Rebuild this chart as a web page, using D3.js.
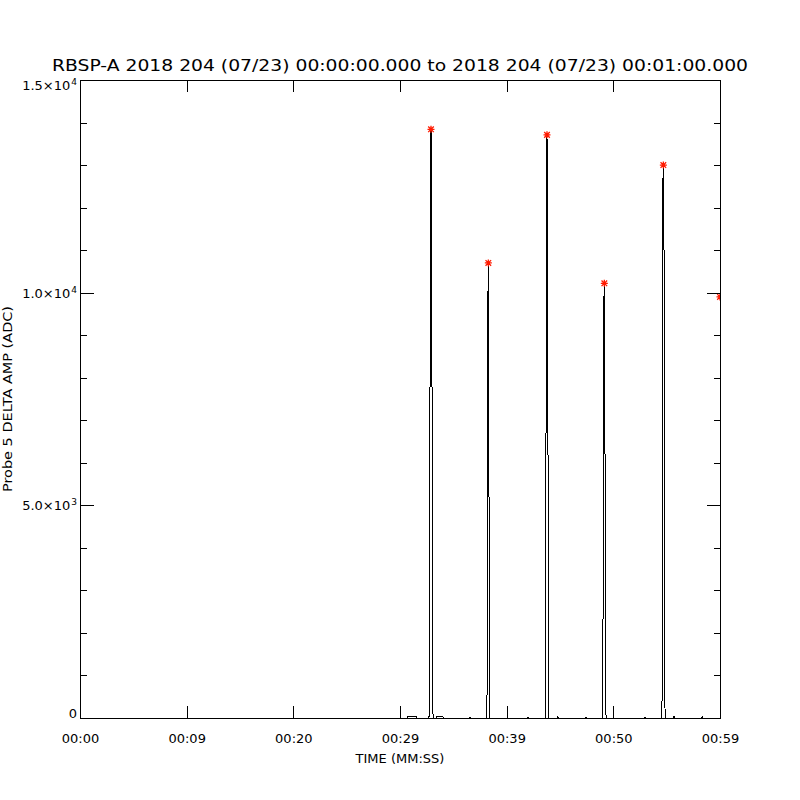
<!DOCTYPE html>
<html>
<head>
<meta charset="utf-8">
<script src="https://cdn.jsdelivr.net/npm/d3@7"></script>
<style>
  html, body { margin: 0; padding: 0; background: #fff; }
  text { font-family: "DejaVu Sans", sans-serif; fill: #000; }
</style>
</head>
<body>
<div id="chart"></div>
<script>
// ---- data ----
const titleText = "RBSP-A 2018 204 (07/23) 00:00:00.000 to 2018 204 (07/23) 00:01:00.000";
const xTitle = "TIME (MM:SS)";
const yTitle = "Probe 5 DELTA AMP (ADC)";

const timeTicks = [0, 10, 20, 30, 40, 50, 60];
const timeTickLabels = ["00:00", "00:09", "00:20", "00:29", "00:39", "00:50", "00:59"];

const ampMajorTicks = [0, 5000, 10000, 15000];
const ampLabelBase = ["0", "5.0\u00d710", "1.0\u00d710", "1.5\u00d710"];
const ampLabelExp = ["", "3", "4", "4"];
const ampMinorTicks = [1000, 2000, 3000, 4000, 6000, 7000, 8000, 9000, 11000, 12000, 13000, 14000];

// trace samples (seconds, ADC), grouped by burst
const traceSeconds = [
  0, 30.69, 30.75, 31.5, 31.56,
  32.719, 32.781, 32.844, 32.906, 32.969, 33.031, 33.094, 33.156,
  33.4, 33.44, 34.0, 34.06, 36.5, 36.56, 36.63,
  38.094, 38.156, 38.219, 38.281, 38.344, 38.406,
  41.94, 42.0, 42.06,
  43.594, 43.656, 43.719, 43.781, 43.844, 43.906, 43.969,
  44.72, 44.78, 44.84, 47.38, 47.44, 47.5,
  48.969, 49.031, 49.094, 49.156, 49.219, 49.281, 49.344,
  52.91, 52.97, 53.03,
  54.5, 54.563, 54.625, 54.688, 54.75, 54.813, 54.875,
  55.63, 55.69, 55.75, 58.28, 58.34, 58.41,
  59.995, 60.0
];
const traceAdc = [
  0, 0, 40, 40, 0,
  0, 3090, 11950, 13840, 11950, 3770, 90, 0,
  0, 40, 40, 0, 0, 30, 0,
  0, 150, 9300, 10700, 5200, 0,
  0, 30, 0,
  0, 420, 12130, 13710, 10400, 2270, 0,
  0, 30, 0, 0, 30, 0,
  0, 2010, 9580, 10220, 6200, 130, 0,
  0, 30, 0,
  0, 180, 12380, 13000, 11000, 460, 0,
  0, 40, 0, 0, 30, 0,
  0, 9900
];

const peakSeconds = [32.906, 38.281, 43.781, 49.156, 54.688, 60.0];
const peakAdc = [13840, 10700, 13710, 10220, 13000, 9900];

// ---- layout ----
const width = 800, height = 800;
const plotLeft = 80, plotRight = 720, plotTop = 80, plotBottom = 718;

const svg = d3.select("#chart").append("svg")
  .attr("width", width)
  .attr("height", height);

const x = d3.scaleLinear().domain([0, 60]).range([plotLeft, plotRight]);
const y = d3.scaleLinear().domain([0, 15000]).range([plotBottom, plotTop]);

const defs = svg.append("defs");
defs.append("clipPath").attr("id", "plot-clip")
  .append("rect")
  .attr("x", plotLeft).attr("y", plotTop)
  .attr("width", plotRight - plotLeft).attr("height", plotBottom - plotTop);
// trace stops short of the right frame column
defs.append("clipPath").attr("id", "trace-clip")
  .append("rect")
  .attr("x", plotLeft).attr("y", plotTop)
  .attr("width", plotRight - plotLeft - 1).attr("height", plotBottom - plotTop + 1);

// ---- trace ----
const trace = d3.zip(traceSeconds, traceAdc);
const line = d3.line().x(d => x(d[0])).y(d => y(d[1]));

svg.append("path")
  .datum(trace)
  .attr("clip-path", "url(#trace-clip)")
  .attr("d", line)
  .attr("fill", "none")
  .attr("stroke", "#000")
  .attr("stroke-width", 1)
  .attr("shape-rendering", "crispEdges");

// ---- peak markers (asterisks) ----
const star = "M-3.5,0H3.5M0,-3.5V3.5M-2.8,-2.8L2.8,2.8M-2.8,2.8L2.8,-2.8";
svg.append("g")
  .attr("clip-path", "url(#plot-clip)")
  .selectAll("path")
  .data(d3.zip(peakSeconds, peakAdc))
  .join("path")
  .attr("transform", d => `translate(${x(d[0])},${y(d[1])})`)
  .attr("d", star)
  .attr("fill", "none")
  .attr("stroke", "#ff1a00")
  .attr("stroke-width", 1.3);

// ---- axes (ticks point inward on all four sides) ----
function styleAxis(g) {
  g.selectAll("line, path").attr("stroke", "#000").attr("shape-rendering", "crispEdges");
  g.selectAll("text").attr("font-size", 13).attr("font-family", "DejaVu Sans, sans-serif").attr("fill", "#000");
}

svg.append("g")
  .attr("transform", `translate(0,${plotBottom})`)
  .call(d3.axisBottom(x).tickValues(timeTicks).tickSize(-12).tickSizeOuter(0)
    .tickPadding(16).tickFormat((d, i) => timeTickLabels[i]))
  .call(styleAxis);

svg.append("g")
  .attr("transform", `translate(0,${plotTop})`)
  .call(d3.axisTop(x).tickValues(timeTicks).tickSize(-12).tickSizeOuter(0).tickFormat(""))
  .call(styleAxis);

svg.append("g")
  .attr("transform", `translate(${plotLeft},0)`)
  .call(d3.axisLeft(y).tickValues(ampMajorTicks).tickSize(-14).tickSizeOuter(0).tickFormat(""))
  .call(styleAxis);
svg.append("g")
  .attr("transform", `translate(${plotLeft},0)`)
  .call(d3.axisLeft(y).tickValues(ampMinorTicks).tickSize(-7).tickSizeOuter(0).tickFormat(""))
  .call(styleAxis);

svg.append("g")
  .attr("transform", `translate(${plotRight},0)`)
  .call(d3.axisRight(y).tickValues(ampMajorTicks).tickSize(-13).tickSizeOuter(0).tickFormat(""))
  .call(styleAxis);
svg.append("g")
  .attr("transform", `translate(${plotRight},0)`)
  .call(d3.axisRight(y).tickValues(ampMinorTicks).tickSize(-6).tickSizeOuter(0).tickFormat(""))
  .call(styleAxis);

// y tick labels with superscript exponents, kept inside the axis span
const yLab = svg.append("g").selectAll("text")
  .data(ampMajorTicks)
  .join("text")
  .attr("x", plotLeft - 3)
  .attr("y", d => Math.min(Math.max(y(d) + 5, plotTop + 10), plotBottom))
  .attr("text-anchor", "end")
  .attr("font-size", 13);
yLab.append("tspan").text((d, i) => ampLabelBase[i]);
yLab.append("tspan")
  .attr("dy", -5)
  .attr("dx", 1)
  .attr("font-size", 9)
  .text((d, i) => ampLabelExp[i]);

// ---- titles ----
svg.append("text")
  .attr("x", 400).attr("y", 71)
  .attr("text-anchor", "middle")
  .attr("font-size", 16.5)
  .attr("textLength", 696)
  .attr("lengthAdjust", "spacingAndGlyphs")
  .text(titleText);

svg.append("text")
  .attr("x", 400).attr("y", 763)
  .attr("text-anchor", "middle")
  .attr("font-size", 13)
  .text(xTitle);

svg.append("text")
  .attr("transform", `translate(11.5,${(plotTop + plotBottom) / 2}) rotate(-90)`)
  .attr("text-anchor", "middle")
  .attr("font-size", 13)
  .attr("textLength", 186)
  .attr("lengthAdjust", "spacingAndGlyphs")
  .text(yTitle);
</script>
</body>
</html>
